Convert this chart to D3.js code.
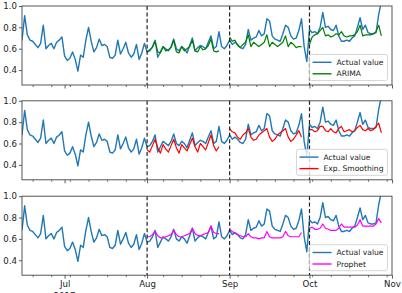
<!DOCTYPE html>
<html>
<head>
<meta charset="utf-8">
<script src="https://cdn.jsdelivr.net/npm/d3@7"></script>
<style>
  body { margin: 0; background: #fff; }
  svg { display: block; font-family: "DejaVu Sans", sans-serif; }
</style>
</head>
<body>
<svg id="chart" width="402" height="293"></svg>
<script>
/* Data */
const actualStart = "2017-06-15";
const actual = [
  0.68, 0.91, 0.73, 0.68, 0.67, 0.64, 0.61, 0.65, 0.82, 0.60,
  0.63, 0.65, 0.60, 0.66, 0.68, 0.71, 0.53, 0.49, 0.51, 0.57,
  0.50, 0.39, 0.54, 0.52, 0.68, 0.80, 0.67, 0.57, 0.61, 0.69,
  0.63, 0.64, 0.62, 0.52, 0.51, 0.54, 0.68, 0.55, 0.60, 0.66,
  0.56, 0.52, 0.55, 0.64, 0.50, 0.56, 0.65, 0.57, 0.58, 0.62,
  0.68, 0.52, 0.57, 0.62, 0.60, 0.58, 0.62, 0.69, 0.60, 0.58,
  0.62, 0.60, 0.56, 0.63, 0.70, 0.58, 0.61, 0.63, 0.62, 0.60,
  0.66, 0.72, 0.60, 0.62, 0.76, 0.62, 0.60, 0.63, 0.68, 0.64,
  0.66, 0.64, 0.61, 0.60, 0.64, 0.78, 0.68, 0.70, 0.71, 0.77,
  0.72, 0.74, 0.88, 0.86, 0.72, 0.69, 0.68, 0.67, 0.74, 0.82,
  0.80, 0.72, 0.69, 0.70, 0.77, 0.88, 0.62, 0.48, 0.78, 0.75,
  0.76, 0.74, 0.80, 0.94, 0.80, 0.81, 0.78, 0.77, 0.82, 0.72,
  0.67, 0.67, 0.68, 0.67, 0.70, 0.72, 0.80, 0.89, 0.78, 0.82,
  0.75, 0.74, 0.74, 0.75, 0.92, 1.04
];

/* each forecast: one 28-day run from the first of Aug, Sep, Oct */
const forecastStarts = ["2017-08-01", "2017-09-01", "2017-10-01"];
const arima = [
  [0.57, 0.59, 0.61, 0.67, 0.57, 0.56, 0.62, 0.58, 0.59, 0.61, 0.68, 0.57, 0.56, 0.62,
   0.58, 0.60, 0.62, 0.68, 0.58, 0.57, 0.62, 0.59, 0.60, 0.63, 0.69, 0.58, 0.57, 0.58],
  [0.71, 0.67, 0.68, 0.63, 0.61, 0.64, 0.66, 0.73, 0.62, 0.66, 0.64, 0.62, 0.64, 0.66,
   0.73, 0.62, 0.66, 0.64, 0.62, 0.64, 0.66, 0.72, 0.62, 0.66, 0.64, 0.61, 0.62, 0.62],
  [0.64, 0.71, 0.73, 0.74, 0.77, 0.80, 0.72, 0.73, 0.71, 0.72, 0.74, 0.73, 0.76, 0.72,
   0.71, 0.72, 0.72, 0.73, 0.76, 0.82, 0.72, 0.73, 0.73, 0.73, 0.74, 0.76, 0.82, 0.72]
];
const expSmoothing = [
  [0.54, 0.52, 0.58, 0.64, 0.56, 0.51, 0.59, 0.55, 0.52, 0.58, 0.64, 0.56, 0.51, 0.59,
   0.56, 0.53, 0.59, 0.65, 0.57, 0.52, 0.60, 0.57, 0.54, 0.61, 0.68, 0.58, 0.53, 0.57],
  [0.74, 0.71, 0.70, 0.66, 0.64, 0.68, 0.70, 0.74, 0.66, 0.63, 0.64, 0.68, 0.70, 0.72,
   0.74, 0.66, 0.62, 0.64, 0.68, 0.70, 0.72, 0.74, 0.66, 0.62, 0.64, 0.68, 0.72, 0.66],
  [0.73, 0.73, 0.71, 0.72, 0.76, 0.76, 0.72, 0.71, 0.74, 0.71, 0.70, 0.74, 0.76, 0.71,
   0.72, 0.73, 0.71, 0.72, 0.75, 0.77, 0.73, 0.72, 0.74, 0.72, 0.73, 0.76, 0.79, 0.70]
];
const prophet = [
  [0.62, 0.62, 0.64, 0.67, 0.63, 0.61, 0.61, 0.62, 0.63, 0.64, 0.68, 0.64, 0.62, 0.62,
   0.63, 0.64, 0.65, 0.70, 0.65, 0.63, 0.63, 0.64, 0.65, 0.66, 0.72, 0.66, 0.65, 0.65],
  [0.69, 0.67, 0.65, 0.64, 0.63, 0.62, 0.62, 0.65, 0.62, 0.61, 0.61, 0.60, 0.61, 0.61,
   0.67, 0.62, 0.61, 0.61, 0.61, 0.61, 0.62, 0.67, 0.63, 0.62, 0.62, 0.62, 0.62, 0.66],
  [0.70, 0.71, 0.69, 0.69, 0.70, 0.74, 0.70, 0.69, 0.68, 0.68, 0.68, 0.70, 0.74, 0.71,
   0.71, 0.71, 0.71, 0.71, 0.73, 0.78, 0.72, 0.72, 0.72, 0.72, 0.72, 0.74, 0.79, 0.75]
];

const modelNames = ["ARIMA", "Exp. Smoothing", "Prophet"];
const actualName = "Actual value";
const yTicks = [0.4, 0.6, 0.8, 1.0];
const monthTicks = ["2017-07-01", "2017-08-01", "2017-09-01", "2017-10-01", "2017-11-01"];
const monthLabels = ["Jul", "Aug", "Sep", "Oct", "Nov"];
const splitDates = ["2017-08-01", "2017-09-01", "2017-10-01"];
const yearLabel = "2017";

/* Styles */
const modelColors = ["#008000", "#ff0000", "#ff00ff"];
const actualColor = "#1f77b4";

/* Layout */
const left = 22, right = 392;
const panelTop = [6, 100.8, 196.2];
const panelH = 79;

const parse = d3.utcParse("%Y-%m-%d");
const day = 24 * 3600 * 1000;
const toSeries = (start, vals) => vals.map((v, i) => ({ date: new Date(parse(start).getTime() + i * day), value: v }));

const actualSeries = toSeries(actualStart, actual);
const models = [arima, expSmoothing, prophet];

const svg = d3.select("#chart");

const x = d3.scaleUtc()
    .domain([parse(actualStart), parse("2017-11-01")])
    .range([left, right]);

const y = d3.scaleLinear().domain([0.26, 1.0]).range([panelH, 0]);

const line = d3.line()
    .x(d => x(d.date))
    .y(d => y(d.value));

models.forEach((model, k) => {
  const g = svg.append("g").attr("transform", `translate(0,${panelTop[k]})`);

  g.append("clipPath").attr("id", "clip" + k)
    .append("rect").attr("x", left).attr("y", 0).attr("width", right - left).attr("height", panelH);

  const plot = g.append("g").attr("clip-path", `url(#clip${k})`);

  /* actual values */
  plot.append("path")
      .attr("fill", "none")
      .attr("stroke", actualColor)
      .attr("stroke-width", 1.4)
      .attr("stroke-linejoin", "round")
      .attr("d", line(actualSeries));

  /* forecast runs */
  model.forEach((run, j) => {
    plot.append("path")
        .attr("fill", "none")
        .attr("stroke", modelColors[k])
        .attr("stroke-width", 1.2)
        .attr("stroke-linejoin", "round")
        .attr("d", line(toSeries(forecastStarts[j], run)));
  });

  /* split markers */
  g.selectAll(".split")
    .data(splitDates)
    .join("line")
      .attr("x1", d => x(parse(d))).attr("x2", d => x(parse(d)))
      .attr("y1", 0).attr("y2", panelH)
      .attr("stroke", "#222")
      .attr("stroke-width", 1.2)
      .attr("stroke-dasharray", "4,2.4");

  /* minor weekly ticks */
  const minor = d3.axisBottom(x)
      .tickValues(d3.utcMonday.range(parse(actualStart), parse("2017-11-01")))
      .tickSize(2).tickFormat("");
  g.append("g").attr("transform", `translate(0,${panelH})`).call(minor)
    .call(a => a.select(".domain").remove())
    .call(a => a.selectAll("line").attr("stroke", "#333").attr("stroke-width", 0.7));

  /* month ticks */
  const major = d3.axisBottom(x)
      .tickValues(monthTicks.map(parse))
      .tickSize(3.5).tickPadding(2)
      .tickFormat((d, i) => k === 2 ? monthLabels[i] : "");
  const xa = g.append("g").attr("transform", `translate(0,${panelH})`).call(major);
  xa.select(".domain").remove();
  xa.selectAll("line").attr("stroke", "#333").attr("stroke-width", 0.8);
  xa.selectAll("text").attr("font-size", 8.6).attr("fill", "#222").attr("font-family", "DejaVu Sans");

  if (k === 2) {
    g.append("text")
        .attr("x", x(parse(monthTicks[0])))
        .attr("y", panelH + 23.5)
        .attr("text-anchor", "middle")
        .attr("font-size", 8.6)
        .attr("fill", "#222")
        .text(yearLabel);
  }

  /* y axis */
  const ya = g.append("g").attr("transform", `translate(${left},0)`)
      .call(d3.axisLeft(y).tickValues(yTicks).tickFormat(d3.format(".1f")).tickSize(3).tickPadding(2));
  ya.select(".domain").remove();
  ya.selectAll("line").attr("stroke", "#333").attr("stroke-width", 0.8);
  ya.selectAll("text").attr("font-size", 8.6).attr("fill", "#222").attr("font-family", "DejaVu Sans");

  /* frame */
  g.append("rect")
      .attr("x", left).attr("y", 0)
      .attr("width", right - left).attr("height", panelH)
      .attr("fill", "none")
      .attr("stroke", "#444")
      .attr("stroke-width", 0.9);

  /* legend */
  const leg = g.append("g");
  const labels = [actualName, modelNames[k]];
  const colors = [actualColor, modelColors[k]];
  const box = leg.append("rect");
  const texts = leg.selectAll("text")
    .data(labels)
    .join("text")
      .attr("font-size", 7.6)
      .attr("fill", "#222")
      .attr("dy", "0.35em")
      .text(d => d);
  const tw = d3.max(texts.nodes(), n => n.getComputedTextLength());
  const bw = 27 + tw + 4, bh = 26;
  const bx = 387.5 - bw, by = panelH - 4.5 - bh;
  box.attr("x", bx).attr("y", by).attr("width", bw).attr("height", bh)
     .attr("rx", 2)
     .attr("fill", "#fff").attr("fill-opacity", 0.8)
     .attr("stroke", "#ccc").attr("stroke-width", 0.8);
  texts.attr("x", bx + 27).attr("y", (d, i) => by + 7.8 + i * 11.5);
  leg.selectAll(".key")
    .data(colors)
    .join("line")
      .attr("x1", bx + 3).attr("x2", bx + 22)
      .attr("y1", (d, i) => by + 7.8 + i * 11.5)
      .attr("y2", (d, i) => by + 7.8 + i * 11.5)
      .attr("stroke", d => d)
      .attr("stroke-width", 1.4);
});
</script>
</body>
</html>
